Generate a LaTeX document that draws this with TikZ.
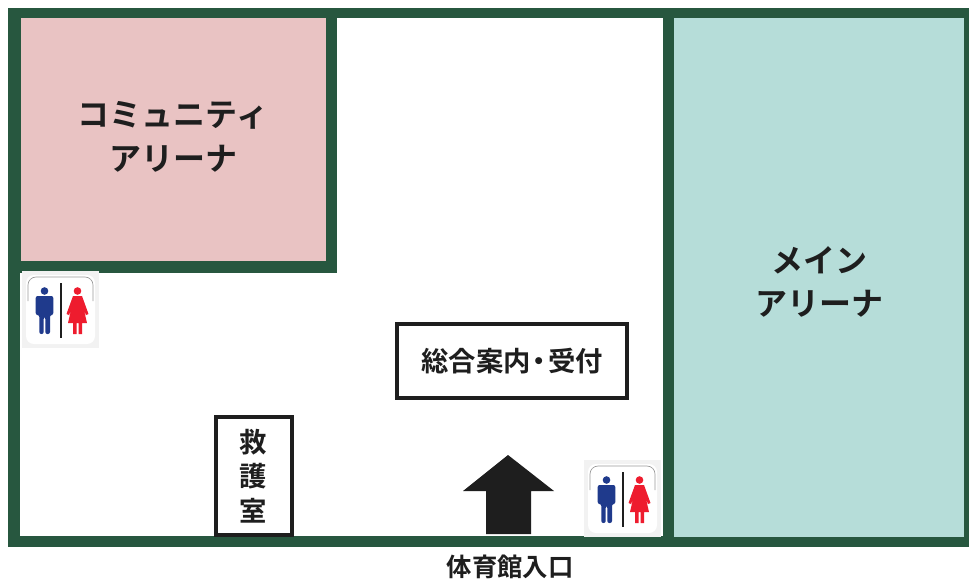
\documentclass[tikz,border=0pt]{standalone}
\usepackage{fontspec}
\setmainfont{Noto Sans CJK JP Bold}
\definecolor{wall}{HTML}{27573F}
\definecolor{pinkroom}{HTML}{E9C3C3}
\definecolor{tealroom}{HTML}{B6DDD9}
\definecolor{manblue}{HTML}{1F3A8C}
\definecolor{womanred}{HTML}{EE1C2E}
\definecolor{inkblack}{HTML}{1E1E1E}
\tikzset{
  roomlabel/.style={text=inkblack, font=\fontsize{24}{32.5}\selectfont, align=center},
  desklabel/.style={draw=inkblack, line width=3pt, fill=white, text=inkblack, inner sep=0pt, font=\fontsize{20.5}{26}\selectfont, align=center},
  restroom/.pic={
    \fill[white!95!black](0,0) rectangle (77,77);
    \fill[white,rounded corners=6pt](4,4) rectangle (73,73);
    \draw[black!40,line width=.5pt,rounded corners=6pt](6,30)--(6,6)--(71,6)--(71,30);
    % man
    \fill[manblue](22.5,20) circle (3.8);
    \fill[manblue,rounded corners=1.5pt](13.7,25)--(31.3,25)--(31.3,44)--(28,44)--(28,63)--(23.3,63)--(23.3,46)--(21.7,46)--(21.7,63)--(17.3,63)--(17.3,44)--(13.7,44)--cycle;
    % divider
    \draw[inkblack,line width=1.3pt](39,12)--(39,67);
    % woman
    \fill[womanred](55.5,20) circle (3.8);
    \fill[womanred](51,25)--(60,25)--(66.5,43)--(64,44)--(62,39)--(65,52)--(60,52)--(60,63)--(56.5,63)--(56.5,52)--(54.5,52)--(54.5,63)--(51,63)--(51,52)--(46,52)--(49,39)--(47,44)--(44.5,43)--cycle;
  }
}
\begin{document}
\begin{tikzpicture}[x=.75pt,y=-.75pt]
\useasboundingbox (0,0) rectangle (969,579);
% walls
\fill[wall](8,8) rectangle (969,547);
\fill[white](20,18) rectangle (663,536);
\fill[tealroom](674,18) rectangle (964,537);
\fill[wall](20,18) rectangle (337,273);
\fill[pinkroom](21,18) rectangle (326,261);
% labels
\node[roomlabel] (community) at (173,137) {コミュニティ\\アリーナ};
\node[roomlabel] (mainarena) at (819,282) {メイン\\アリーナ};
% desks
\node[desklabel, minimum width=172pt, minimum height=56pt] (reception) at (512,361) {総合案内\makebox[13pt]{・}受付};
\node[desklabel, minimum width=57pt, minimum height=89pt] (firstaid) at (253.5,476) {救\\護\\室};
% entrance
\fill[inkblack](508,455)--(554,491)--(531,491)--(531,534)--(486,534)--(486,491)--(463,491)--cycle;
\node[text=inkblack, font=\fontsize{19}{24}\selectfont] (entrance) at (510,567) {体育館入口};
% restrooms
\pic at (22,271) {restroom};
\pic at (584,460) {restroom};
\end{tikzpicture}
\end{document}
